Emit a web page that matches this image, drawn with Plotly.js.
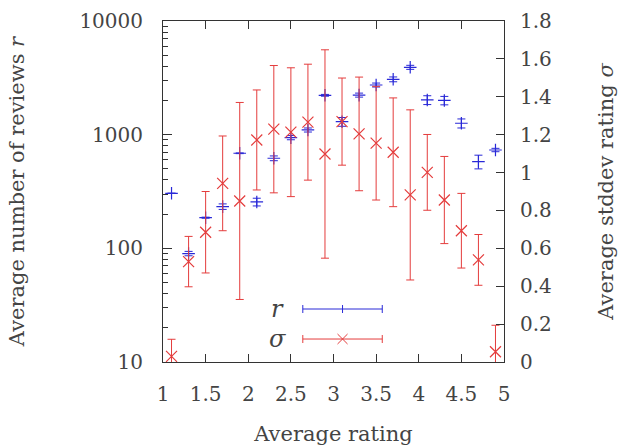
<!DOCTYPE html>
<html>
<head>
<meta charset="utf-8">
<script src="https://cdn.plot.ly/plotly-3.0.1.min.js"></script>
<style>
html,body{margin:0;padding:0;background:#fff;}
#chart{width:626px;height:446px;}
</style>
</head>
<body>
<div id="chart"></div>
<script>
// Average rating bins
var rating = [1.1, 1.3, 1.5, 1.7, 1.9, 2.1, 2.3, 2.5, 2.7, 2.9, 3.1, 3.3, 3.5, 3.7, 3.9, 4.1, 4.3, 4.5, 4.7, 4.9];
// Average number of reviews r (left, log axis)
var reviews = [305, 90, 186, 233, 686, 256, 620, 942, 1100, 2220, 1300, 2230, 2735, 3070, 3915, 2020, 2000, 1260, 580, 733];
var reviewsErr = [0, 4, 2, 13, 5, 20, 30, 40, 45, 40, 115, 90, 110, 150, 160, 180, 170, 115, 80, 25];
// Average stddev rating sigma (right axis)
var stddev = [0.03, 0.53, 0.685, 0.943, 0.85, 1.172, 1.229, 1.213, 1.266, 1.098, 1.269, 1.204, 1.155, 1.107, 0.882, 1.001, 0.855, 0.693, 0.539, 0.054];
var stddevErr = [0.09, 0.133, 0.215, 0.25, 0.52, 0.264, 0.336, 0.34, 0.306, 0.55, 0.23, 0.30, 0.30, 0.287, 0.449, 0.20, 0.23, 0.197, 0.134, 0.14];
var xTicks = [1, 1.5, 2, 2.5, 3, 3.5, 4, 4.5, 5];
var yTicks = [10, 100, 1000, 10000];
var y2Ticks = [0, 0.2, 0.4, 0.6, 0.8, 1, 1.2, 1.4, 1.6, 1.8];

var BLUE = 'rgb(40,40,215)';
var RED = 'rgb(228,60,60)';
var logRange = [Math.log10(yTicks[0]), Math.log10(yTicks[yTicks.length - 1])];

var traces = [
  {
    x: rating, y: reviews, type: 'scatter', mode: 'markers', name: 'r',
    marker: {symbol: 'cross-thin', size: 9, line: {color: BLUE, width: 1.2}, color: BLUE},
    error_y: {type: 'data', array: reviewsErr, visible: true, color: BLUE, thickness: 1, width: 4},
    yaxis: 'y', showlegend: false
  },
  {
    x: rating, y: stddev, type: 'scatter', mode: 'markers', name: 'sigma',
    marker: {symbol: 'x-thin', size: 11, line: {color: RED, width: 1.2}, color: RED},
    error_y: {type: 'data', array: stddevErr, visible: true, color: RED, thickness: 1, width: 4},
    yaxis: 'y2', showlegend: false
  }
];

// legend decoration (paper coords)
var lx0 = 0.41, lx1 = 0.643, lxc = 0.5265;
var ry = 0.1554, sy = 0.0674;
var cap = 0.0117;
function seg(x0, y0, x1, y1, c) {
  return {type: 'line', xref: 'paper', yref: 'paper', x0: x0, y0: y0, x1: x1, y1: y1, line: {color: c, width: 1}};
}
var shapes = [
  seg(lx0, ry, lx1, ry, BLUE), seg(lx0, ry - cap, lx0, ry + cap, BLUE), seg(lx1, ry - cap, lx1, ry + cap, BLUE),
  seg(lxc, ry - cap, lxc, ry + cap, BLUE),
  seg(lx0, sy, lx1, sy, RED), seg(lx0, sy - cap, lx0, sy + cap, RED), seg(lx1, sy - cap, lx1, sy + cap, RED),
  seg(lxc - 0.0147, sy - 0.0147, lxc + 0.0147, sy + 0.0147, RED), seg(lxc - 0.0147, sy + 0.0147, lxc + 0.0147, sy - 0.0147, RED)
];

var layout = {
  width: 626, height: 446,
  margin: {l: 163, r: 122, t: 21, b: 84},
  font: {family: 'DejaVu Serif', size: 20},
  showlegend: false,
  xaxis: {
    range: [xTicks[0], xTicks[xTicks.length - 1]], tickvals: xTicks, ticktext: xTicks.map(String),
    ticks: 'inside', ticklen: 8, showline: true, linecolor: '#333', tickcolor: '#333',
    mirror: 'ticks', showgrid: false, zeroline: false, ticklabelstandoff: 14,
    title: {text: 'Average rating', standoff: 22, font: {family: 'DejaVu Serif', size: 21}}
  },
  yaxis: {
    type: 'log', range: logRange, dtick: 1, exponentformat: 'none', tickformat: 'd',
    ticks: 'inside', ticklen: 9, showline: true, linecolor: '#333', tickcolor: '#333',
    mirror: true, showgrid: false, zeroline: false, ticklabelstandoff: 15,
    minor: {ticks: 'inside', ticklen: 5, dtick: 'D1'},
    title: {text: 'Average number of reviews <i>r</i>', standoff: 49, font: {family: 'DejaVu Serif', size: 21}}
  },
  yaxis2: {
    overlaying: 'y', side: 'right', range: [y2Ticks[0], y2Ticks[y2Ticks.length - 1]], tickvals: y2Ticks, ticktext: y2Ticks.map(String),
    ticks: 'inside', ticklen: 8, tickcolor: '#333', showline: false, showgrid: false, zeroline: false,
    ticklabelstandoff: 15,
    title: {text: 'Average stddev rating <i>&#963;</i>', standoff: 47, font: {family: 'DejaVu Serif', size: 21}}
  },
  shapes: shapes,
  annotations: [
    {xref: 'paper', yref: 'paper', x: 0.337, y: ry, text: '<i>r</i>', showarrow: false, xanchor: 'center', yanchor: 'middle', font: {family: 'DejaVu Serif', size: 24}},
    {xref: 'paper', yref: 'paper', x: 0.336, y: sy, text: '<i>&#963;</i>', showarrow: false, xanchor: 'center', yanchor: 'middle', font: {family: 'DejaVu Serif', size: 24}}
  ]
};

Plotly.newPlot('chart', traces, layout, {staticPlot: true});
</script>
</body>
</html>
